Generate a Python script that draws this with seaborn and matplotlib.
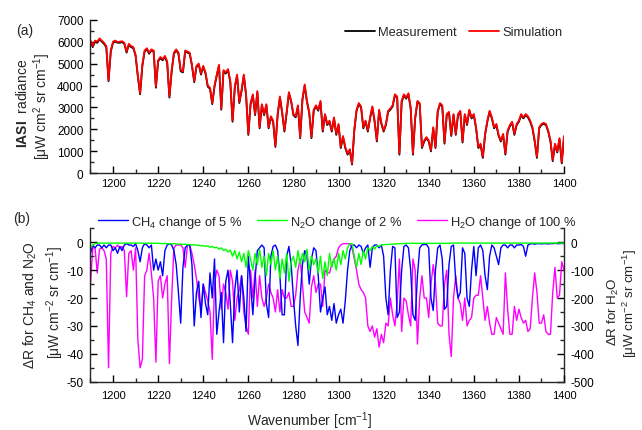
import numpy as np
import pandas as pd
import matplotlib
matplotlib.use("Agg")
import matplotlib.pyplot as plt
import seaborn as sns
from matplotlib.ticker import MultipleLocator
from matplotlib.lines import Line2D

# ---------------- data ----------------
wavenumber = np.arange(1190, 1401)

simulation = [
    6050, 5800, 6050, 6000, 6150, 6050, 5950, 5800, 4250, 5600,
    6000, 6050, 5980, 6000, 6020, 5950, 5550, 5900, 5800, 5750,
    5400, 4450, 3650, 4950, 5600, 5700, 5500, 5650, 5600, 3950,
    5150, 5300, 5200, 5350, 5100, 3500, 4700, 5500, 5650, 5500,
    4700, 4650, 5600, 5550, 5500, 4950, 4200, 4900, 5000, 4550,
    4900, 4600, 4000, 3900, 3200, 4000, 4500, 4950, 2950, 4700,
    4600, 4750, 4200, 2400, 3950, 4500, 3250, 3800, 4500, 3600,
    1800, 3200, 3600, 2700, 3750, 2100, 3150, 2700, 3150, 2100,
    2600, 2400, 1250, 2700, 3500, 2800, 1950, 2800, 3700, 3300,
    2700, 2600, 3100, 1650, 3400, 4050, 3300, 2800, 1650, 2900,
    3100, 2900, 3300, 1950, 2700, 2250, 2400, 1950, 2550, 1800,
    2250, 1200, 1700, 1200, 900, 1100, 450, 2000, 2900, 3200,
    3050, 2100, 2400, 1950, 2550, 3050, 2400, 1500, 2900, 2300,
    1950, 2250, 2850, 2950, 3100, 3600, 3500, 900, 3300, 3600,
    3450, 3650, 3000, 900, 2550, 3300, 3200, 1200, 1500, 1650,
    1500, 1050, 2100, 1200, 2850, 3200, 3100, 1400, 2700, 2800,
    1750, 2700, 1800, 2700, 2850, 1450, 2700, 2250, 2900, 2550,
    2700, 2100, 1200, 1350, 750, 1800, 2400, 2850, 2550, 2100,
    2250, 1750, 1500, 1800, 900, 1950, 2200, 2350, 1800, 2250,
    2400, 2700, 2550, 2700, 2600, 2400, 2100, 1500, 750, 2100,
    2250, 2300, 2250, 1950, 1500, 600, 1350, 1000, 1600, 500,
    1700,
]

measurement = [
    6000, 5750, 6000, 5950, 6100, 6000, 5900, 5750, 4200, 5550,
    5950, 6000, 5950, 5950, 5980, 5900, 5500, 5850, 5750, 5700,
    5350, 4400, 3600, 4900, 5550, 5650, 5450, 5600, 5550, 3900,
    5100, 5250, 5150, 5300, 5050, 3450, 4650, 5450, 5600, 5450,
    4650, 4600, 5550, 5500, 5450, 4900, 4150, 4850, 4950, 4500,
    4850, 4550, 3950, 3850, 3150, 3950, 4450, 4900, 2900, 4650,
    4550, 4700, 4150, 2350, 3900, 4450, 3200, 3750, 4450, 3550,
    1750, 3150, 3550, 2650, 3700, 2050, 3100, 2650, 3100, 2050,
    2550, 2350, 1200, 2650, 3450, 2750, 1900, 2750, 3650, 3250,
    2650, 2550, 3050, 1600, 3350, 4000, 3250, 2750, 1600, 2850,
    3050, 2850, 3250, 1900, 2650, 2200, 2350, 1900, 2500, 1750,
    2200, 1150, 1650, 1150, 850, 1050, 400, 1950, 2850, 3150,
    3000, 2050, 2350, 1900, 2500, 3000, 2350, 1450, 2850, 2250,
    1900, 2200, 2800, 2900, 3050, 3550, 3450, 850, 3250, 3550,
    3400, 3600, 2950, 850, 2500, 3250, 3150, 1150, 1450, 1600,
    1450, 1000, 2050, 1150, 2800, 3150, 3050, 1350, 2650, 2750,
    1700, 2650, 1750, 2650, 2800, 1400, 2650, 2200, 2850, 2500,
    2650, 2050, 1150, 1300, 700, 1750, 2350, 2800, 2500, 2050,
    2200, 1700, 1450, 1750, 850, 1900, 2150, 2300, 1750, 2200,
    2350, 2650, 2500, 2650, 2550, 2350, 2050, 1450, 700, 2050,
    2200, 2250, 2200, 1900, 1450, 550, 1300, 950, 1550, 450,
    1650,
]

ch4_change = [
    -4, -1, -2, -1, -1, -2, -1, -2, -1, -1,
    -3, -2, -4, -1.5, -3, -1, -0.5, -1, -1, -1.5,
    -0.5, -3, -7, -2, -0.5, -1, -2, -1, -10, -6,
    -10, -7, -12, -3, -1, -0.5, -1, -3, -8, -18,
    -29, -9, -2, -1, -1, -8, -30, -18, -14, -27,
    -15, -22, -26, -11, -20, -6, -33, -25, -18, -36,
    -14, -10, -22, -36, -17, -10, -25, -12, -20, -32,
    -5, -15, -26, -13, -3, -2, -1, -2, -22, -27,
    -5, -1.5, -1, -3, -12, -26, -26, -5, -1.5, -8,
    -20, -30, -37, -20, -8, -3, -5, -15, -6, -2,
    -3, -12, -25, -20, -16, -26, -23, -28, -22, -29,
    -26, -24, -29, -21, -10, -3, -1, -1, -2, -1,
    -1.5, -4, -2, -1, -9, -2, -1, -1, -2, -1,
    -5, -20, -26, -10, -1.5, -2, -27, -25, -10, -1.5,
    -1, -2, -10, -26, -28, -12, -2, -1, -0.8, -0.8,
    -2, -20, -24.5, -10, -2, -1, -6, -24, -23, -8,
    -1.5, -1, -14, -20, -18, -2, -4, -20, -23, -10,
    -1.5, -12, -2, -1, -3, -12, -17, -5, -1, -2,
    -5, -8, -2, -1, -1, -2, -1, -1, -2, -1,
    -1, -0.8, -1.5, -5, -1, -0.6, -0.5, -0.7, -0.5, -0.5,
    -0.6, -0.5, -0.5, -0.6, -0.5, -0.5, -0.4, -0.5, -0.5, -0.4,
    -0.5,
]

n2o_change = [
    -2, -1, -0.5, -0.4, -0.3, -0.3, -0.3, -0.3, -0.3, -0.3,
    -0.3, -0.3, -0.3, -0.3, -0.3, -0.3, -0.3, -0.3, -0.3, -0.3,
    -0.3, -0.3, -0.3, -0.3, -0.4, -0.3, -0.3, -0.3, -0.4, -0.3,
    -0.4, -0.4, -0.5, -0.4, -0.5, -0.5, -0.6, -0.5, -0.6, -0.7,
    -0.7, -0.8, -0.7, -0.9, -0.8, -1.0, -0.9, -1.1, -1.0, -1.3,
    -1.2, -1.5, -1.3, -1.8, -1.5, -2.0, -1.8, -2.5, -2.0, -3.0,
    -2.5, -3.5, -2.8, -5, -3, -6, -3.5, -7, -4, -9,
    -3, -6, -10, -4, -8, -2.5, -9, -5, -12, -4,
    -8, -3, -10, -5, -13, -6, -11, -4, -14, -7,
    -5, -9, -3, -8, -4, -7, -2.5, -10, -5, -8,
    -6, -11, -5, -13, -7, -12, -4, -9, -6, -10,
    -4, -8, -3, -6, -2, -0.5, -0.5, -5, -9, -4,
    -8, -3, -6, -2, -3, -1.5, -2.5, -1.2, -1.5, -1.0,
    -0.9, -0.8, -0.8, -0.7, -0.7, -0.6, -0.6, -0.5, -0.5, -0.5,
    -0.4, -0.4, -0.4, -0.4, -0.4, -0.4, -0.4, -0.4, -0.4, -0.4,
    -0.4, -0.4, -0.4, -0.4, -0.4, -0.4, -0.4, -0.4, -0.4, -0.4,
    -0.3, -0.3, -0.3, -0.3, -0.3, -0.3, -0.3, -0.3, -0.3, -0.3,
    -0.3, -0.3, -0.3, -0.3, -0.3, -0.3, -0.3, -0.3, -0.3, -0.3,
    -0.3, -0.3, -0.3, -0.3, -0.3, -0.3, -0.3, -0.3, -0.3, -0.3,
    -0.3, -0.3, -0.3, -0.3, -0.3, -0.3, -0.3, -0.3, -0.3, -0.3,
    -0.3, -0.3, -0.3, -0.3, -0.3, -0.3, -0.3, -0.3, -0.3, -0.3,
    -0.3,
]

h2o_change = [
    -150, -20, -20, -110, -25, -20, -30, -60, -450, -40,
    -15, -20, -10, -20, -15, -30, -195, -40, -30, -100,
    -20, -350, -450, -420, -120, -100, -40, -110, -200, -430,
    -140, -120, -200, -150, -120, -435, -200, -20, -10, -10,
    -10, -20, -90, -10, -10, -40, -80, -130, -200, -240,
    -150, -180, -210, -250, -420, -150, -100, -120, -240, -150,
    -180, -240, -100, -140, -280, -200, -170, -120, -250, -300,
    -330, -100, -200, -100, -230, -120, -200, -230, -200, -150,
    -180, -200, -250, -170, -250, -170, -200, -200, -180, -230,
    -230, -190, -100, -60, -150, -250, -270, -290, -160, -120,
    -180, -150, -150, -230, -100, -110, -110, -80, -60, -50,
    -20, -10, -5, -5, -5, -5, -20, -60, -100, -150,
    -170, -180, -200, -300, -320, -300, -340, -310, -376, -330,
    -360, -290, -300, -200, -260, -300, -220, -60, -320, -200,
    -210, -260, -300, -60, -100, -365, -200, -120, -200, -200,
    -270, -150, -80, -150, -290, -300, -300, -150, -100, -330,
    -410, -200, -120, -200, -220, -280, -200, -300, -280, -270,
    -200, -190, -190, -120, -200, -280, -230, -290, -330, -330,
    -270, -290, -310, -330, -110, -240, -330, -330, -230, -280,
    -240, -270, -290, -280, -320, -310, -200, -110, -180, -290,
    -290, -260, -320, -330, -330, -180, -90, -200, -190, -70,
    -100,
]

legend_top = ["Measurement", "Simulation"]
legend_bottom = ["CH$_4$ change of 5 %", "N$_2$O change of 2 %", "H$_2$O change of 100 %"]

# ---------------- style ----------------
sns.set_theme(style="ticks")
plt.rcParams["font.family"] = ["Liberation Sans", "DejaVu Sans"]
plt.rcParams["mathtext.fontset"] = "custom"
plt.rcParams["mathtext.rm"] = "Liberation Sans"
plt.rcParams["mathtext.it"] = "Liberation Sans:italic"
plt.rcParams["mathtext.bf"] = "Liberation Sans:bold"
plt.rcParams["axes.linewidth"] = 1.0

W, H = 642, 431
fig = plt.figure(figsize=(W / 100, H / 100), dpi=100)

def frac(x0, y0, x1, y1):
    return [x0 / W, 1 - y1 / H, (x1 - x0) / W, (y1 - y0) / H]

ax1 = fig.add_axes(frac(90.5, 20.7, 564, 174.3))
ax2 = fig.add_axes(frac(90.5, 229.3, 564, 382.7))
ax3 = ax2.twinx()

df_top = pd.DataFrame({"wn": wavenumber, "Measurement": measurement, "Simulation": simulation})
df_bot = pd.DataFrame({"wn": wavenumber, "ch4": ch4_change, "n2o": n2o_change, "h2o": h2o_change})

sns.lineplot(data=df_top, x="wn", y="Measurement", ax=ax1, color="black", lw=1.3, estimator=None, sort=False)
sns.lineplot(data=df_top, x="wn", y="Simulation", ax=ax1, color="#ff0000", lw=1.3, estimator=None, sort=False)

# magenta (right axis) drawn below the left-axis lines
sns.lineplot(data=df_bot, x="wn", y="h2o", ax=ax3, color="#ff00ff", lw=1.0, estimator=None, sort=False)
sns.lineplot(data=df_bot, x="wn", y="ch4", ax=ax2, color="#0000ff", lw=1.0, estimator=None, sort=False)
sns.lineplot(data=df_bot, x="wn", y="n2o", ax=ax2, color="#00ff00", lw=1.0, estimator=None, sort=False)
ax2.set_zorder(ax3.get_zorder() + 1)
ax2.patch.set_visible(False)

# ---------------- axes ----------------
for ax in (ax1, ax2):
    ax.set_xlim(1190, 1400)
    ax.xaxis.set_major_locator(MultipleLocator(20))
    ax.xaxis.set_minor_locator(MultipleLocator(10))
    ax.set_xlabel("")
    ax.set_ylabel("")
    ax.spines["top"].set_visible(False)

ax1.spines["right"].set_visible(False)
ax1.set_ylim(0, 7000)
ax1.yaxis.set_major_locator(MultipleLocator(1000))
ax1.yaxis.set_minor_locator(MultipleLocator(500))

ax2.set_ylim(-50, 5)
ax2.yaxis.set_major_locator(MultipleLocator(10))
ax2.yaxis.set_minor_locator(MultipleLocator(5))
ax2.spines["right"].set_visible(False)
ax3.set_ylim(-500, 50)
ax3.yaxis.set_major_locator(MultipleLocator(100))
ax3.yaxis.set_minor_locator(MultipleLocator(50))
ax3.set_ylabel("")
ax3.spines["top"].set_visible(False)
ax3.spines["left"].set_visible(False)
ax3.spines["bottom"].set_visible(False)
ax3.set_xlim(1190, 1400)

for ax in (ax1, ax2, ax3):
    ax.tick_params(which="major", direction="in", length=5, width=1.0, labelsize=8.5, colors="black")
    ax.tick_params(which="minor", direction="in", length=3, width=1.0)
    ax.tick_params(axis="y", pad=5)
ax1.tick_params(axis="x", labelsize=8, pad=3.5)
ax2.tick_params(axis="x", labelsize=8, pad=6)
ax1.tick_params(axis="x", which="both", top=False)
ax2.tick_params(axis="x", which="both", top=False)
ax3.tick_params(axis="y", which="both", left=False, right=True)

ax1.set_yticklabels([f"{int(v)}" for v in ax1.get_yticks()])
ax2.set_yticklabels([f"{int(v)}" for v in ax2.get_yticks()])
ax3.set_yticklabels([f"{int(v)}" for v in ax3.get_yticks()])
for ax in (ax1, ax2):
    ax.set_xticklabels([f"{int(v)}" for v in ax.get_xticks()])

# ---------------- legends ----------------
h_top = [Line2D([], [], color="black", lw=1.3), Line2D([], [], color="#ff0000", lw=1.3)]
fig.legend(h_top, legend_top, loc="center left", bbox_to_anchor=(345 / W, 1 - 33 / H),
           ncol=2, frameon=False, fontsize=9.3, handlelength=2.3, handletextpad=0.25,
           columnspacing=1.0, borderaxespad=0, borderpad=0)

h_bot = [Line2D([], [], color="#0000ff", lw=1.0), Line2D([], [], color="#00ff00", lw=1.0),
         Line2D([], [], color="#ff00ff", lw=1.0)]
fig.legend(h_bot, legend_bottom, loc="center left", bbox_to_anchor=(98 / W, 1 - 223 / H),
           ncol=3, frameon=False, fontsize=9.3, handlelength=2.3, handletextpad=0.25,
           columnspacing=1.15, borderaxespad=0, borderpad=0)

# ---------------- labels ----------------
fig.text(25 / W, 1 - 31 / H, "(a)", fontsize=10, ha="center", va="center")
fig.text(22 / W, 1 - 219 / H, "(b)", fontsize=10, ha="center", va="center")

fig.text(23 / W, 1 - 103 / H, r"$\mathbf{IASI}$  radiance", rotation=90, fontsize=10, ha="center", va="center")
fig.text(42 / W, 1 - 106 / H, r"[μW cm$^{2}$ sr cm$^{-1}$]", rotation=90, fontsize=10, ha="center", va="center")

fig.text(30 / W, 1 - 305 / H, r"ΔR for CH$_4$ and N$_2$O", rotation=90, fontsize=10, ha="center", va="center")
fig.text(55 / W, 1 - 302 / H, r"[μW cm$^{-2}$ sr cm$^{-1}$]", rotation=90, fontsize=10, ha="center", va="center")

fig.text(613 / W, 1 - 312 / H, r"ΔR for H$_2$O", rotation=90, fontsize=9.6, ha="center", va="center")
fig.text(630 / W, 1 - 303 / H, r"[μW cm$^{-2}$ sr cm$^{-1}$]", rotation=90, fontsize=9.6, ha="center", va="center")

fig.text(310 / W, 1 - 421 / H, r"Wavenumber [cm$^{-1}$]", fontsize=10, ha="center", va="center")

fig.savefig("out.png", dpi=100)
